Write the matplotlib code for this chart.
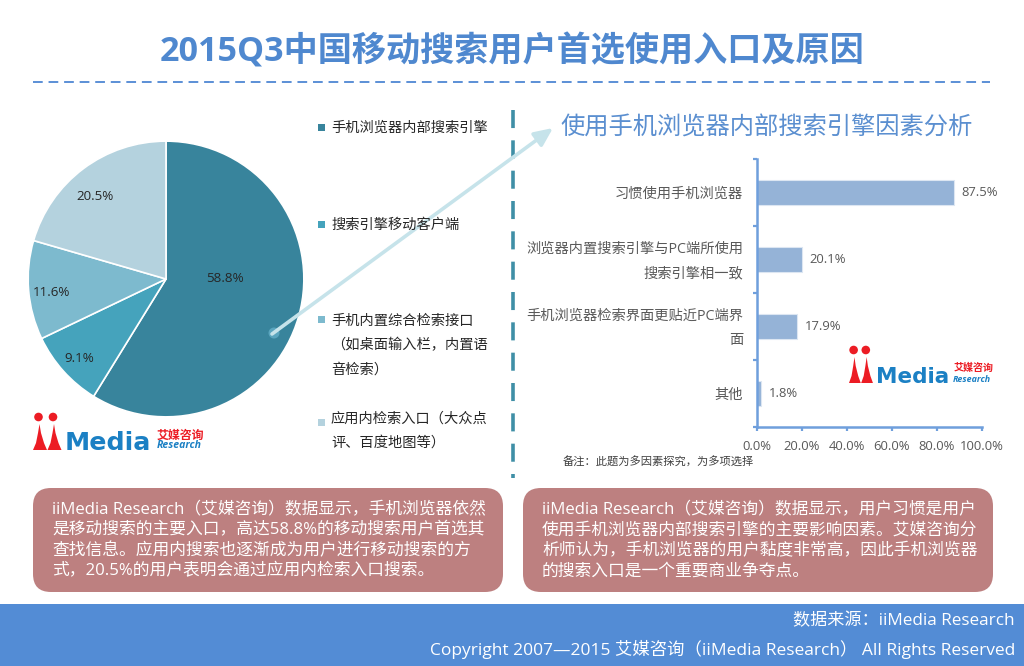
import matplotlib
matplotlib.use('Agg')
import matplotlib.pyplot as plt
from matplotlib.patches import FancyBboxPatch, Rectangle, Circle, Polygon

plt.rcParams['font.family'] = ['Open Sans', 'Noto Sans CJK SC', 'DejaVu Sans']

W, H = 1024, 666
title = '2015Q3中国移动搜索用户首选使用入口及原因'
subtitle = '使用手机浏览器内部搜索引擎因素分析'
pie_labels = ['手机浏览器内部搜索引擎', '搜索引擎移动客户端',
              '手机内置综合检索接口\n（如桌面输入栏，内置语\n音检索）',
              '应用内检索入口（大众点\n评、百度地图等）']
pie_values = [58.8, 9.1, 11.6, 20.5]
pie_colors = ['#38849C', '#45A3BC', '#7DBACE', '#B4D2DE']
bar_labels = ['习惯使用手机浏览器', '浏览器内置搜索引擎与PC端所使用\n搜索引擎相一致',
              '手机浏览器检索界面更贴近PC端界\n面', '其他']
bar_values = [87.5, 20.1, 17.9, 1.8]
x_ticks = [0, 20, 40, 60, 80, 100]
note = '备注：此题为多因素探究，为多项选择'
left_text = ['iiMedia Research（艾媒咨询）数据显示，手机浏览器依然',
             '是移动搜索的主要入口，高达58.8%的移动搜索用户首选其',
             '查找信息。应用内搜索也逐渐成为用户进行移动搜索的方',
             '式，20.5%的用户表明会通过应用内检索入口搜索。']
right_text = ['iiMedia Research（艾媒咨询）数据显示，用户习惯是用户',
              '使用手机浏览器内部搜索引擎的主要影响因素。艾媒咨询分',
              '析师认为，手机浏览器的用户黏度非常高，因此手机浏览器',
              '的搜索入口是一个重要商业争夺点。']
source = '数据来源：iiMedia Research'
copyright_text = 'Copyright 2007—2015 艾媒咨询（iiMedia Research） All Rights Reserved'

fig = plt.figure(figsize=(W / 100, H / 100), dpi=100, facecolor='white')


def px_axes(x0, y0, x1, y1, **kw):
    return fig.add_axes([x0 / W, 1 - y1 / H, (x1 - x0) / W, (y1 - y0) / H], **kw)


# Page background layer in pixel coordinates
bg = fig.add_axes([0, 0, 1, 1], zorder=0)
bg.set_xlim(0, W)
bg.set_ylim(H, 0)
bg.axis('off')

bg.text(512, 52, title, ha='center', va='center', fontsize=24.6, fontweight='bold', color='#4F88CF')
bg.plot([33, 990], [82, 82], color='#5B8FD6', lw=1.4, dashes=(5, 3))
bg.plot([513, 513], [110, 478], color='#3F8FA6', lw=2.6, dashes=(5, 3.4))
bg.text(767, 129, subtitle, ha='center', va='center', fontsize=17.5, color='#5B8FD0')

# Text panels
for x0, x1, lines in [(33, 503, left_text), (523, 993, right_text)]:
    bg.add_patch(FancyBboxPatch((x0 + 18, 488 + 18), x1 - x0 - 36, 104 - 36,
                                boxstyle='round,pad=18,rounding_size=18', lw=0, fc='#BD8080'))
    for i, line in enumerate(lines):
        bg.text(x0 + 19, 510 + i * 20.4, line, ha='left', va='center', fontsize=12.05, color='white')

# Footer
bg.add_patch(Rectangle((0, 604), W, 62, color='#538CD5', lw=0))
bg.text(1015, 621, source, ha='right', va='center', fontsize=12.3, color='white')
bg.text(1015, 649, copyright_text, ha='right', va='center', fontsize=12.5, color='white')

# Pie
pie_ax = px_axes(24, 137, 308, 421)
pie_ax.set_aspect('equal')
wedges, texts = pie_ax.pie(pie_values, colors=pie_colors, startangle=90, counterclock=False,
                           radius=1.0, wedgeprops=dict(edgecolor='white', linewidth=1.2))
pie_ax.set_xlim(-1.03, 1.03)
pie_ax.set_ylim(-1.03, 1.03)

# Overlay layer for arrow, pie labels, legend and logos
top = fig.add_axes([0, 0, 1, 1], zorder=10)
top.set_xlim(0, W)
top.set_ylim(H, 0)
top.axis('off')
top.patch.set_alpha(0)
top.annotate('', xy=(553, 128), xytext=(272, 334),
             arrowprops=dict(arrowstyle='-|>,head_length=1.1,head_width=0.5', color='#C6E3EA', lw=2.6,
                             shrinkA=0, shrinkB=0))
top.add_patch(Circle((274, 333), 5.5, color='#5AA5BE', lw=0))
for v, px, py in zip(pie_values, [225, 79, 51, 95], [279, 358, 292, 197]):
    top.text(px, py, f'{v}%', ha='center', va='center', fontsize=9.6, color='#262626')

# Legend
legend_y = [127, 224, 319, 422]
text_y = [128.5, 225.5, 346, 431]
for y, ty, c, s in zip(legend_y, text_y, pie_colors, pie_labels):
    top.add_patch(Rectangle((318, y - 3), 7, 7, color=c, lw=0, zorder=6))
    top.text(331, ty, s, ha='left', va='center', fontsize=10.25, color='#262626', linespacing=1.85, zorder=6)


def logo(x, y, sx=1.0, fs=16.5):
    red, blue = '#EC1C24', '#1B80C4'
    for dx in (0, 14.5):
        ox = x + dx * sx
        top.add_patch(Circle((ox + 5.5 * sx, y + 4), 4.3, color=red, lw=0))
        top.add_patch(Polygon([(ox, y + 37), (ox + 3 * sx, y + 30), (ox + 5 * sx, y + 20), (ox + 6.5 * sx, y + 11),
                               (ox + 8 * sx, y + 20), (ox + 11 * sx, y + 30), (ox + 14 * sx, y + 37)],
                              color=red, lw=0))
    top.text(x + 32 * sx, y + 37, 'Media', ha='left', va='baseline', fontsize=fs, fontweight='bold',
             family='DejaVu Sans', color=blue)
    top.text(x + 124 * sx, y + 22, '艾媒咨询', ha='left', va='center', fontsize=8.6 * sx, fontweight='bold', color=red)
    top.text(x + 124 * sx, y + 33, 'Research', ha='left', va='center', fontsize=7.6 * sx, fontweight='bold',
             style='italic', color=blue)


logo(33, 413, fs=18.2)
logo(849, 346, sx=0.84, fs=15.5)

# Bars
ax = px_axes(757, 159, 982, 427, zorder=5)
ax.patch.set_alpha(0)
positions = list(range(len(bar_values)))
ax.barh(positions, bar_values, height=0.36, color='#95B3D7', edgecolor='#DCE6F2', linewidth=0.8)
ax.set_ylim(len(bar_values) - 0.5, -0.5)
ax.set_xlim(0, 100)
ax.set_xticks(x_ticks)
ax.set_xticklabels([f'{t:.1f}%' for t in x_ticks], fontsize=9.4, color='#595959')
ax.set_yticks([p - 0.5 for p in positions] + [len(bar_values) - 0.5])
ax.set_yticklabels([])
ax.tick_params(axis='both', color='#6F9FDC', width=1.6, length=3, pad=6)
for s in ['top', 'right']:
    ax.spines[s].set_visible(False)
for s in ['left', 'bottom']:
    ax.spines[s].set_color('#6F9FDC')
    ax.spines[s].set_linewidth(1.8)
for p, v, lab in zip(positions, bar_values, bar_labels):
    ax.text(v + 3.3, p, f'{v}%', va='center', ha='left', fontsize=9.4, color='#595959')
    ax.annotate(lab, xy=(0, p), xytext=(-10, -1.3), textcoords='offset points', ha='right', va='center',
                fontsize=10.25, color='#595959', linespacing=1.9, annotation_clip=False)
bg.text(563, 463, note, ha='left', va='center', fontsize=8.1, color='#404040')

fig.savefig('out.png', dpi=100)
